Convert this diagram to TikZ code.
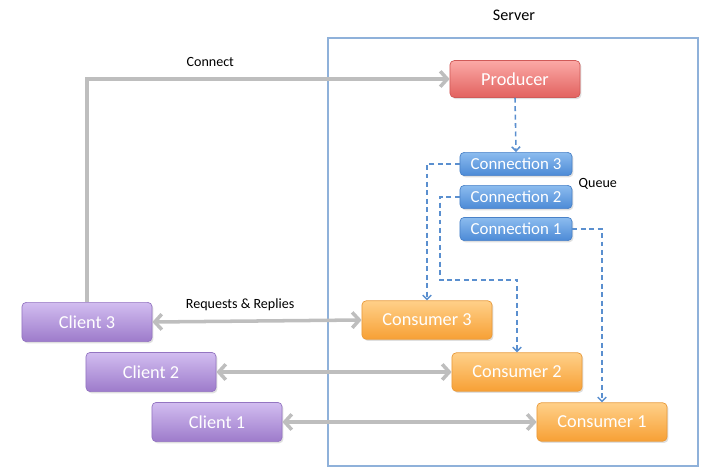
\documentclass[tikz,border=0pt]{standalone}
\usepackage{fontspec}
\setmainfont{Carlito}
\usepackage{tikz}
\usetikzlibrary{positioning, arrows.meta, shadows}

\definecolor{prodtop}{HTML}{FBA9A6}
\definecolor{prodbot}{HTML}{E2625F}
\definecolor{prodline}{HTML}{D05A58}
\definecolor{conntop}{HTML}{8CBCEF}
\definecolor{connbot}{HTML}{4C8AD6}
\definecolor{connline}{HTML}{4A82C8}
\definecolor{clitop}{HTML}{D2BDF0}
\definecolor{clibot}{HTML}{9D7BCB}
\definecolor{cliline}{HTML}{9475C2}
\definecolor{constop}{HTML}{FFD089}
\definecolor{consbot}{HTML}{F7A035}
\definecolor{consline}{HTML}{E99A3A}
\definecolor{linkgray}{HTML}{BEBEBE}
\definecolor{dashblue}{HTML}{5A8FCF}
\definecolor{serverline}{HTML}{8FB1DA}

\begin{document}
\begin{tikzpicture}[
    x=0.025cm, y=-0.025cm, % one unit is one pixel of the reference
    every node/.style={font=\fontsize{13}{15}\selectfont},
    box/.style={rounded corners=3pt, text=white, line width=0.5pt,
        drop shadow={opacity=0.25, shadow xshift=1pt, shadow yshift=-1.2pt}},
    prodbox/.style={box, draw=prodline, top color=prodtop, bottom color=prodbot,
        minimum width=3.25cm, minimum height=0.92cm},
    connbox/.style={box, draw=connline, top color=conntop, bottom color=connbot,
        minimum width=2.8cm, minimum height=0.58cm, font=\fontsize{12}{14}\selectfont},
    clibox/.style={box, draw=cliline, top color=clitop, bottom color=clibot,
        minimum width=3.25cm, minimum height=0.98cm},
    consbox/.style={box, draw=consline, top color=constop, bottom color=consbot,
        minimum width=3.25cm, minimum height=0.96cm},
    link/.style={draw=linkgray, line width=2.5pt,
        arrows={-Straight Barb[length=5pt, width=11pt]}},
    duplex/.style={link, arrows={Straight Barb[length=5pt, width=11pt]-Straight Barb[length=5pt, width=11pt]}},
    feed/.style={draw=dashblue, line width=1.1pt, dash pattern=on 3.5pt off 2.5pt,
        arrows={-Straight Barb[length=3pt, width=6pt]}},
    small/.style={font=\fontsize{10}{12}\selectfont}
]
    \useasboundingbox (0,0) rectangle (703,473);

    % Server frame with its title
    \draw[serverline, line width=0.8pt] (328,38) rectangle (698,466);
    \node (Server) at (514,15) {\fontsize{11.5}{13}\selectfont Server};

    % Producer and its queue of connections
    \node[prodbox] (Producer) at (515,79) {Producer};
    \node[connbox] (Conn3) at (516,164) {Connection 3};
    \node[connbox] (Conn2) at (516,197) {Connection 2};
    \node[connbox] (Conn1) at (516,229) {Connection 1};
    \node[small, right=1pt of Conn2.north east, anchor=west, yshift=1pt] (Queue) {Queue};

    % Clients, stepped to the right
    \node[clibox] (Client3) at (87,322) {Client 3};
    \node[clibox] (Client2) at (151,372) {Client 2};
    \node[clibox] (Client1) at (217,422) {Client 1};

    % Consumers, stepped the same way
    \node[consbox] (Consumer3) at (427,320) {Consumer 3};
    \node[consbox] (Consumer2) at (517,372) {Consumer 2};
    \node[consbox] (Consumer1) at (602,422) {Consumer 1};

    % Corner of the path from Connection 2
    \coordinate (bend2) at (440,280);

    % 1. Client 3 connects to the producer
    \draw[link] (Client3.north) |- (Producer.west)
        node[pos=0.67, above, small, yshift=4pt] {Connect};

    % 2. Requests and replies between clients and consumers
    \draw[duplex] (Client3.east) -- (Consumer3.west)
        node[midway, above, small, xshift=-12pt, yshift=3pt] {Requests \& Replies};
    \draw[duplex] (Client2.east) -- (Consumer2.west);
    \draw[duplex] (Client1.east) -- (Consumer1.west);

    % 3. Producer fills the queue, each connection feeds one consumer
    \draw[feed] (Producer.south) -- (Conn3.north);
    \draw[feed] (Conn3.west) -| (Consumer3.north);
    \draw[feed] (Conn2.west) -| (bend2) -| (Consumer2.north);
    \draw[feed] (Conn1.east) -| (Consumer1.north);

\end{tikzpicture}
\end{document}
